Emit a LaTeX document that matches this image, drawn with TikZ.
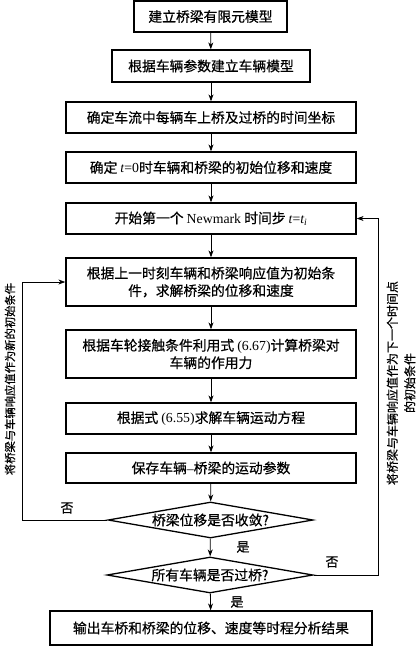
\documentclass[tikz,border=0pt]{standalone}
\usepackage{fontspec}
\setmainfont{Noto Sans CJK SC}[FakeBold=0.6]
\newfontfamily\lat{Liberation Serif}
\usetikzlibrary{shapes.geometric,arrows.meta}
\newcommand\twolines[3]{\vbox{\baselineskip=17.5pt\hbox to #1{\hss #2\hss}\hbox to #1{\hss #3\hss}}}
\begin{document}
\begin{tikzpicture}[x=1pt,y=-1pt,
  every node/.style={font=\fontsize{13.8}{17.5}\selectfont, inner sep=0pt},
  box/.style={draw, line width=1.3pt},
  dec/.style={draw, line width=1.3pt, shape=diamond, aspect=5.7, inner sep=0pt},
  flow/.style={draw, line width=0.8pt, -{Stealth[length=7pt,width=5pt]}},
  side/.style={rotate=90},
  lbl/.style={font=\fontsize{13}{16}\selectfont}]
\useasboundingbox (0,0) rectangle (417,646);
\node[box, minimum width=153, minimum height=31] (b1) at (210.5,16.5) {建立桥梁有限元模型};
\node[box, minimum width=198, minimum height=32] (b2) at (211,66) {根据车辆参数建立车辆模型};
\node[box, minimum width=290, minimum height=31] (b3) at (211,117.5) {确定车流中每辆车上桥及过桥的时间坐标};
\node[box, minimum width=290, minimum height=31] (b4) at (211,167.5) {确定 {\lat\itshape t}{\lat =0}时车辆和桥梁的初始位移和速度};
\node[box, minimum width=290, minimum height=31] (b5) at (211,218.5) {开始第一个 {\lat Newmark} 时间步 {\lat\itshape t}{\lat =}{\lat\itshape t\textsubscript{i}}};
\node[box, minimum width=290, minimum height=48] (b6) at (211,282) {\twolines{280pt}{根据上一时刻车辆和桥梁响应值为初始条}{件，求解桥梁的位移和速度}};
\node[box, minimum width=290, minimum height=48] (b7) at (211,354) {\twolines{280pt}{根据车轮接触条件利用式 {\lat (6.67)}计算桥梁对}{车辆的作用力}};
\node[box, minimum width=290, minimum height=31] (b8) at (211,418.5) {根据式 {\lat (6.55)}求解车辆运动方程};
\node[box, minimum width=290, minimum height=30] (b9) at (211,468) {保存车辆{\lat –}桥梁的运动参数};
\node[dec, minimum width=205, minimum height=36] (d1) at (210.5,520) {桥梁位移是否收敛?};
\node[dec, minimum width=206, minimum height=36] (d2) at (210,575) {所有车辆是否过桥?};
\node[box, minimum width=322, minimum height=34] (b10) at (211,628) {输出车桥和桥梁的位移、速度等时程分析结果};
\coordinate (l1) at (22,520);
\coordinate (l2) at (22,282);
\coordinate (r1) at (378,575);
\coordinate (r2) at (378,218.5);
\path[flow] (b1) -- (b2);
\path[flow] (b2) -- (b3);
\path[flow] (b3) -- (b4);
\path[flow] (b4) -- (b5);
\path[flow] (b5) -- (b6);
\path[flow] (b6) -- (b7);
\path[flow] (b7) -- (b8);
\path[flow] (b8) -- (b9);
\path[flow] (b9) -- (d1);
\path[flow] (d1) -- (d2);
\path[flow] (d2) -- (b10);
\path[flow] (d1.west) -- (l1) -- (l2) -- (b6.west);
\path[flow] (d2.east) -- (r1) -- (r2) -- (b5.east);
\node[lbl] (n1) at (67,508) {否};
\node[lbl] (n2) at (332,562) {否};
\node[lbl] (y1) at (243,547) {是};
\node[lbl] (y2) at (237,602) {是};
\node[side, font=\fontsize{11.3}{15}\selectfont] (tl) at (10,379) {将桥梁与车辆响应值作为新的初始条件};
\node[side, font=\fontsize{12}{18}\selectfont] (tr) at (401,383) {\twolines{210pt}{将桥梁与车辆响应值作为下一个时间点}{的初始条件}};
\end{tikzpicture}
\end{document}
